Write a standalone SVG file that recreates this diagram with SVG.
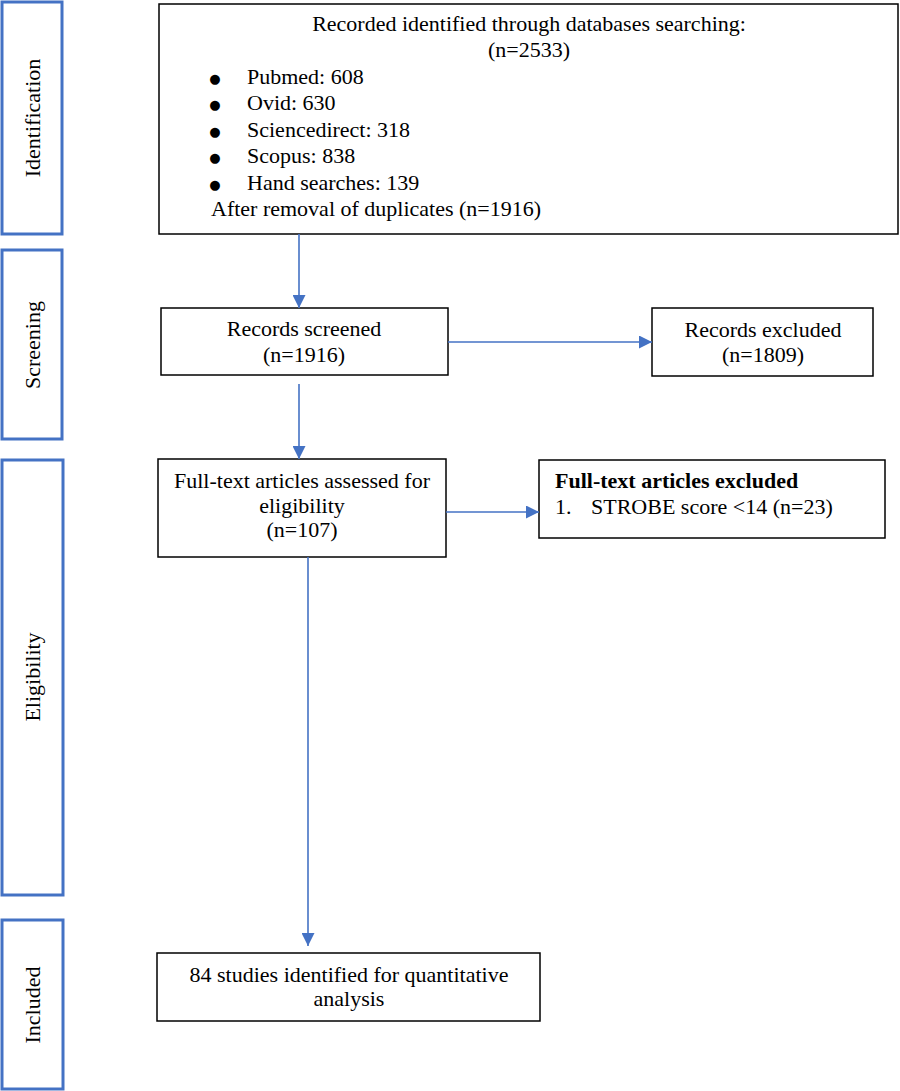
<svg xmlns="http://www.w3.org/2000/svg" width="900" height="1091" viewBox="0 0 900 1091">
<style>
.phase{fill:#fff;stroke:#4472C4;stroke-width:3}
.box{fill:#fff;stroke:#000;stroke-width:1.5}
text{font-family:"Liberation Serif","Times New Roman",serif;font-size:22px;fill:#000}
.c{text-anchor:middle}
.b{font-weight:bold}
.bul{font-family:"DejaVu Sans",sans-serif;font-size:13px;text-anchor:middle}
.conn{stroke:#4472C4;stroke-width:1.6;fill:none}
</style>
<defs>
<marker id="ah" markerUnits="userSpaceOnUse" markerWidth="13" markerHeight="13" viewBox="0 0 12 12" refX="12" refY="6" orient="auto">
<path d="M0,0 L12,6 L0,12 Z" fill="#4472C4"/>
</marker>
</defs>
<g id="phase-identification">
<rect class="phase" x="2" y="2" width="60" height="232"/>
<text class="c" transform="translate(40,118) rotate(-90)">Identification</text>
</g>
<g id="phase-screening">
<rect class="phase" x="2" y="250" width="60" height="189"/>
<text class="c" transform="translate(40,345) rotate(-90)">Screening</text>
</g>
<g id="phase-eligibility">
<rect class="phase" x="2" y="460" width="61" height="435"/>
<text class="c" transform="translate(40,677) rotate(-90)">Eligibility</text>
</g>
<g id="phase-included">
<rect class="phase" x="2" y="920" width="61" height="169"/>
<text class="c" transform="translate(40,1005) rotate(-90)">Included</text>
</g>
<g id="identified">
<rect class="box" x="159" y="4" width="739" height="230"/>
<text class="c" x="529" y="31">Recorded identified through databases searching:</text>
<text class="c" x="529" y="57">(n=2533)</text>
<text class="bul" x="215" y="83">●</text><text x="247" y="84">Pubmed: 608</text>
<text class="bul" x="215" y="109">●</text><text x="247" y="110">Ovid: 630</text>
<text class="bul" x="215" y="136">●</text><text x="247" y="137">Sciencedirect: 318</text>
<text class="bul" x="215" y="162">●</text><text x="247" y="163">Scopus: 838</text>
<text class="bul" x="215" y="189">●</text><text x="247" y="190">Hand searches: 139</text>
<text x="211" y="216">After removal of duplicates (n=1916)</text>
</g>
<g id="screened">
<rect class="box" x="161" y="308" width="287" height="67"/>
<text class="c" x="304" y="336">Records screened</text>
<text class="c" x="304" y="362">(n=1916)</text>
</g>
<g id="excluded">
<rect class="box" x="652" y="308" width="221" height="68"/>
<text class="c" x="763" y="337">Records excluded</text>
<text class="c" x="763" y="362">(n=1809)</text>
</g>
<g id="fulltext">
<rect class="box" x="158" y="459" width="288" height="98"/>
<text class="c" x="302" y="488">Full-text articles assessed for</text>
<text class="c" x="302" y="513">eligibility</text>
<text class="c" x="302" y="537">(n=107)</text>
</g>
<g id="fulltext-excluded">
<rect class="box" x="539" y="460" width="346" height="78"/>
<text class="b" x="555" y="488">Full-text articles excluded</text>
<text x="555" y="514">1.</text>
<text x="591" y="514">STROBE score &lt;14 (n=23)</text>
</g>
<g id="included">
<rect class="box" x="157" y="953" width="383" height="68"/>
<text class="c" x="349" y="982">84 studies identified for quantitative</text>
<text class="c" x="349" y="1006">analysis</text>
</g>
<g id="connectors">
<line class="conn" x1="299" y1="234" x2="299" y2="308" marker-end="url(#ah)"/>
<line class="conn" x1="299" y1="384" x2="299" y2="459" marker-end="url(#ah)"/>
<line class="conn" x1="308" y1="557" x2="308" y2="946" marker-end="url(#ah)"/>
<line class="conn" x1="448" y1="342" x2="652" y2="342" marker-end="url(#ah)"/>
<line class="conn" x1="446" y1="512" x2="539" y2="512" marker-end="url(#ah)"/>
</g>
</svg>
